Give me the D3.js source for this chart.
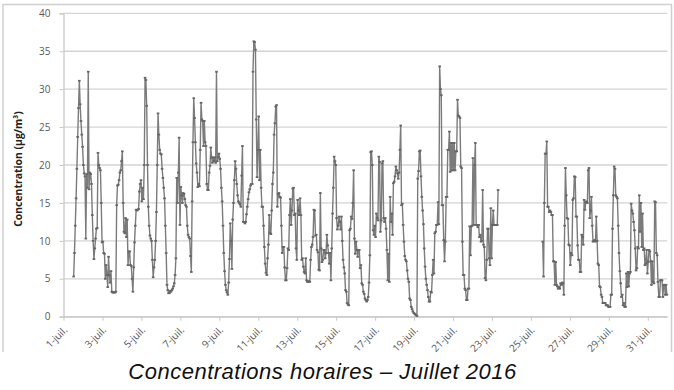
<!DOCTYPE html>
<html>
<head>
<meta charset="utf-8">
<script src="https://cdn.jsdelivr.net/npm/d3@7"></script>
<style>
  body { margin: 0; background: #fff; }
  svg { display: block; font-family: "Liberation Sans", Arial, sans-serif; }
</style>
</head>
<body>
<svg id="chart" width="674" height="390"></svg>
<script>
// hourly concentrations (µg/m3), one array of 24 hours per day, null = no data
const jul01 = [null,null,null,null,null,null,null,null,null,null,null,null,5.3,8.4,12,15.6,19.5,23.7,27.5,31.1,28,25.8,24,22.4];
const jul02 = [20,18.9,18.5,10.3,18.8,17,32.3,16.8,19,18.8,17.5,13.4,10,7.6,9,10.3,11.6,11.7,21.6,20,19.6,19.3,15,9.8];
const jul03 = [9.9,8.4,8.3,5,6.8,5.5,3.9,7.9,5.5,4.5,6,3.3,3.2,3.2,3.2,3.2,3.3,14.7,17.3,17.4,18,19,19.3,20.5];
const jul04 = [21.8,15,11.2,11,13,10.5,12.8,6.8,8.6,8.6,6.8,6.7,5,3.3,6.5,9.8,12,14.1,14,14.1,14.2,16.5,17.5,18];
const jul05 = [15.2,17,15.5,20,31.5,31.2,27.8,20,14.5,12,10.7,10.3,10,7.5,5.2,6.5,7.5,10,13.8,20,26.8,24,22,21.5];
const jul06 = [21.4,19.5,18.3,17,15.6,12,8.4,4.2,3.5,3.1,3.1,3.4,3.3,3.5,3.7,4,4.4,5.5,7.7,18.3,15,19,23.6,12.1];
const jul07 = [17.1,16,15,16.3,16.2,15.5,14.7,14.5,12,10.8,10.5,10.3,8,5.9,15.2,23,28.8,26.2,23,20.2,19,17.1,17.5,17.2];
const jul08 = [22,28.2,26,25.8,22.5,25.8,23,22.5,17.5,16.7,16.7,19,19.9,22.3,21,20.3,21,20.5,21,20.3,32.3,20.5,21,21.5];
const jul09 = [20.8,19.5,17,15.2,12,8.4,6,4.2,3.5,3.2,2.9,4.5,7.6,12.3,10,6.3,12.8,15,18,20.5,19.5,17.5,16,15.2];
const jul10 = [15,14.8,14.5,18.6,22.5,12.5,12.5,12.3,12.5,13.5,14.5,15.5,16.4,16.8,17.3,17.5,17.5,32.3,36.3,36.2,35.2,26,18.4,22];
const jul11 = [26.4,18,22,17,14.5,14.5,12,9.2,7,5.8,5.5,7.7,9.5,13.4,11,10.9,14,17.5,19,24,25.5,27.7,27.9,14.5];
const jul12 = [16.2,16.3,15.8,15.7,12,8.4,9.2,9.2,6.5,4.8,4.8,6.4,9,8.8,13.4,15.5,12.1,14,16.9,17,13.4,13.6,9,7.5];
const jul13 = [15.4,14,13.4,15.6,13.4,7.5,7.7,6.6,5.9,5.7,7.7,4.8,4.6,4.6,4.7,4.6,7.5,9.2,9.5,10.5,14.1,14,10.7,10.8];
const jul14 = [8.8,8.5,6.2,6.1,16.3,9,7.2,7.5,8.8,8.8,7.7,8.4,10.8,9.4,8.4,7,8.4,4.8,9,13.6,17,21.1,20.5,20];
const jul15 = [13,11.5,12,13.2,12.5,11.5,13.2,10,7.5,6.5,5.7,3.5,3.3,1.8,1.6,1.5,11.4,11.6,13.2,12.9,15,19.3,10.3,8.3];
const jul16 = [9.9,8.8,7.9,8.8,8.8,6.4,6.8,4.4,4.2,3.3,3,2.4,2.2,2,2.2,2.6,4.5,8.1,21.7,21.8,20,11.4,10.8,12];
const jul17 = [10.5,13.6,13,12.7,21.1,20.4,11.2,12.7,20.2,20.5,13,12.5,13,11.6,8.8,4.8,8.3,4.6,15.8,12.5,13.6,10.8,17.6,17.8];
const jul18 = [18.5,19.8,19.3,18.9,18.2,19,22,25.2,14.7,14.9,12.1,9.9,8,7.5,7.3,6.1,5,4.6,2.4,2.2,1.3,1,0.7,0.5];
const jul19 = [0.4,0.3,0.2,0.1,18.2,19.2,21.8,21.9,18.5,15.8,14,12.2,9,6.6,5,4.2,3.5,2.6,2,2,3.3,3.2,5.5,7.5];
const jul20 = [5.7,11,11.2,12.1,12.1,15.1,12.2,33,30,29.2,14.7,14.7,10.1,7.3,9.9,15.8,15.8,22,22,24.4,19.1,22.9,19.3,22.9];
const jul21 = [19.3,22.9,19.3,21.8,21.8,28.6,26.5,26.4,26.2,19.8,19.6,9.9,5.5,5.5,3.7,3.5,2.2,2.2,3.7,3.7,11.9,8.1,11.9,12];
const jul22 = [20.9,12.1,20,22.9,12.1,12.1,11.8,12.1,10.5,10.8,9.9,10,16.7,9.5,9.2,5.1,4.8,7.5,11.6,11.6,7.7,6.8,14.3,7.7];
const jul23 = [12.1,14,12.1,12.1,12.1,12.1,12.1,16.7,null,null,null,null,null,null,null,null,null,null,null,null,null,null,null,null];
const jul24 = [null,null,null,null,null,null,null,null,null,null,null,null,null,null,null,null,null,null,null,null,null,null,null,null];
const jul25 = [null,null,null,null,null,null,null,null,null,null,null,null,null,null,9.9,5.3,15,21.5,21.5,23.1,14.5,14.5,13.8,14];
const jul26 = [13.8,13.4,13.4,7.3,7.3,4.2,7.2,4.2,4,3.7,3.9,3.7,4.4,4.2,4.5,4.4,2.9,12,19.6,16,13,12.9,9.5,9.4];
const jul27 = [6.8,8.4,8.1,15.4,15.6,18.5,18.4,13.2,13.2,9.4,7.5,7.5,5.9,5.9,10.8,10.5,9.5,15.4,14.1,15.1,15.2,15,19.3,19.6];
const jul28 = [13,14,15.8,12,9.9,10,10.1,9.9,13.2,10,7,6.8,4,3.9,2.9,2.6,1.8,1.8,1.8,1.8,1.5,1.5,1.5,1.3];
const jul29 = [1.3,1.3,2.9,2.9,11.6,16,19.8,19.5,16,15.8,15.6,12,8.4,6,4.4,2.6,2.9,1.5,1.8,1.3,1.3,5.7,3.9,5.9];
const jul30 = [4,5.7,5.9,14.9,14,13.6,12.5,11.4,9,6.1,6.4,9.2,9,16,11.2,15,9.2,13.6,8.8,9,6.8,7,8.8,5.7];
const jul31 = [7.2,8.8,8.6,7.3,4.2,7.3,4.6,4.4,15.2,15.1,8.4,8.1,4.6,2.6,2.6,4.8,4.8,4.8,2.6,4.2,4.2,2.9,4.2,2.9];

const days = [jul01,jul02,jul03,jul04,jul05,jul06,jul07,jul08,jul09,jul10,jul11,jul12,jul13,jul14,jul15,jul16,
              jul17,jul18,jul19,jul20,jul21,jul22,jul23,jul24,jul25,jul26,jul27,jul28,jul29,jul30,jul31];
const dayLabels = d3.range(1, 32).map(d => `${d}-juil.`);
const labelDays = d3.range(0, 31, 2);  // labels every second day
const yTicks = [0, 5, 10, 15, 20, 25, 30, 35, 40];
const yTitle = "Concentration (µg/m³)";
const title = "Concentrations horaires \u2013 Juillet 2016";

const svg = d3.select("#chart");
const plot = {left: 63.5, right: 667.3, top: 13.3, bottom: 316.7};

// chart frame (top and sides, open at the bottom like the scan)
svg.append("path")
    .attr("d", "M3,352 V4.5 H671.5 V352")
    .attr("fill", "none")
    .attr("stroke", "#d0d0d0")
    .attr("stroke-width", 1.5);

const x = d3.scaleLinear().domain([0, 31 * 24]).range([plot.left, plot.right]);
const y = d3.scaleLinear().domain([0, 40]).range([plot.bottom, plot.top]);

const points = [];
days.forEach((arr, d) => arr.forEach((v, h) => points.push({i: d * 24 + h, v: v})));

// gridlines
svg.append("g")
    .selectAll("line")
    .data(yTicks)
    .join("line")
    .attr("x1", plot.left).attr("x2", plot.right)
    .attr("y1", d => y(d)).attr("y2", d => y(d))
    .attr("stroke", "#d4d4d4")
    .attr("stroke-width", 1.3);

// y axis
const yAxis = svg.append("g")
    .attr("transform", `translate(${plot.left},0)`)
    .call(d3.axisLeft(y).tickValues(yTicks).tickSize(4).tickPadding(9));
yAxis.select(".domain").attr("stroke", "#c8c8c8").attr("stroke-width", 1.3);
yAxis.selectAll(".tick line").attr("stroke", "#c8c8c8");
yAxis.selectAll("text")
    .attr("fill", "#595959")
    .style("font-size", "10px")
    .style("font-family", "'Open Sans', 'DejaVu Sans', sans-serif");

// x axis
const xAxis = svg.append("g")
    .attr("transform", `translate(0,${plot.bottom})`)
    .call(d3.axisBottom(x)
        .tickValues(labelDays.map(d => d * 24))
        .tickFormat(v => dayLabels[v / 24])
        .tickSize(4)
        .tickSizeOuter(0));
xAxis.select(".domain").attr("stroke", "#c8c8c8").attr("stroke-width", 1.3);
xAxis.selectAll(".tick line").attr("stroke", "#c8c8c8");
xAxis.selectAll("text")
    .attr("fill", "#555")
    .style("font-size", "10px")
    .style("font-family", "'Open Sans', 'DejaVu Sans', sans-serif")
    .style("text-anchor", "end")
    .attr("dy", null)
    .attr("y", 0)
    .attr("x", 0)
    .attr("transform", "translate(4,14) rotate(-45)");

// series line
const line = d3.line()
    .defined(d => d.v !== null)
    .x(d => x(d.i + 0.5))
    .y(d => y(d.v));

svg.append("path")
    .datum(points)
    .attr("d", line)
    .attr("fill", "none")
    .attr("stroke", "#7b7b7b")
    .attr("stroke-width", 1.4)
    .attr("stroke-linejoin", "round");

svg.append("g")
    .selectAll("rect")
    .data(points.filter(d => d.v !== null))
    .join("rect")
    .attr("x", d => x(d.i + 0.5) - 1.3)
    .attr("y", d => y(d.v) - 0.9)
    .attr("width", 2.6)
    .attr("height", 1.8)
    .attr("fill", "#666");

// y axis title
svg.append("text")
    .attr("transform", `translate(22,169) rotate(-90)`)
    .attr("text-anchor", "middle")
    .style("font-size", "10.4px")
    .style("font-weight", "bold")
    .style("font-family", "'Open Sans', 'DejaVu Sans', sans-serif")
    .attr("fill", "#222")
    .text(yTitle);

// caption below the chart
svg.append("text")
    .attr("x", 322.5)
    .attr("y", 379)
    .attr("text-anchor", "middle")
    .style("font-size", "22px")
    .style("font-style", "italic")
    .style("letter-spacing", "0.5px")
    .attr("fill", "#111")
    .text(title);
</script>
</body>
</html>
